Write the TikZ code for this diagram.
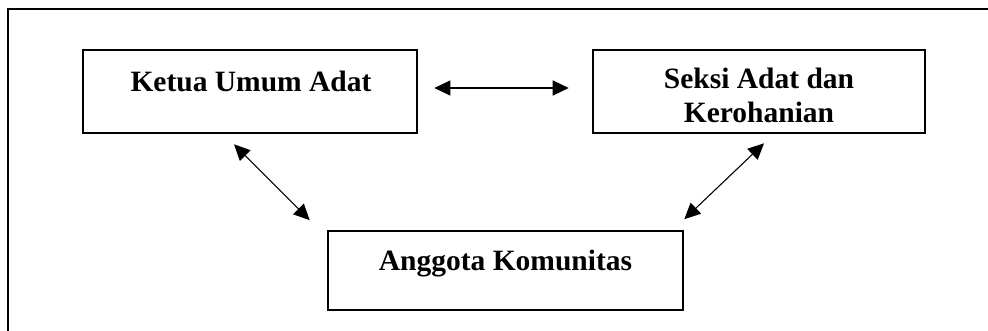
\documentclass[tikz,border=0pt]{standalone}
\usepackage{fontspec}
\setmainfont{Liberation Serif}
\usetikzlibrary{arrows.meta}
\begin{document}
\begin{tikzpicture}[x=1pt,y=1pt,
  box/.style={draw=black, line width=2.6pt, minimum width=334pt, minimum height=83pt, inner sep=0pt},
  lbl/.style={font=\bfseries\fontsize{29.5}{34}\selectfont, inner sep=0pt, anchor=base, align=center},
  arr/.style={line width=1.1pt, {Triangle[length=16pt,width=15pt]}-{Triangle[length=16pt,width=15pt]}}]
\useasboundingbox (0,0) rectangle (988,330);
% outer frame (only left and top edges visible)
\draw[line width=2.6pt] (8,-10) -- (8,321) -- (1000,321);
% boxes
\node[box] (k) at (250,238.5) {};
\node[box, minimum width=332pt] (s) at (759,238.5) {};
\node[box, minimum width=355pt, minimum height=79pt] (a) at (505.5,59.5) {};
% texts
\node[lbl] (kt) at (251,238.3) {Ketua Umum Adat};
\node[lbl] (st1) at (759,241) {Seksi Adat dan};
\node[lbl] (st2) at (759,207.5) {Kerohanian};
\node[lbl] (at) at (505.5,60) {Anggota Komunitas};
% connectors
\draw[arr] ([xshift=16pt,yshift=3.5pt]k.east) -- ([xshift=-23pt,yshift=3.5pt]s.west);
\draw[arr] ([xshift=-16pt,yshift=-10pt]k.south) -- ([xshift=-17pt,yshift=9.5pt]a.north west);
\draw[arr] ([xshift=5pt,yshift=-9pt]s.south) -- ([xshift=0pt,yshift=10.5pt]a.north east);
\end{tikzpicture}
\end{document}
